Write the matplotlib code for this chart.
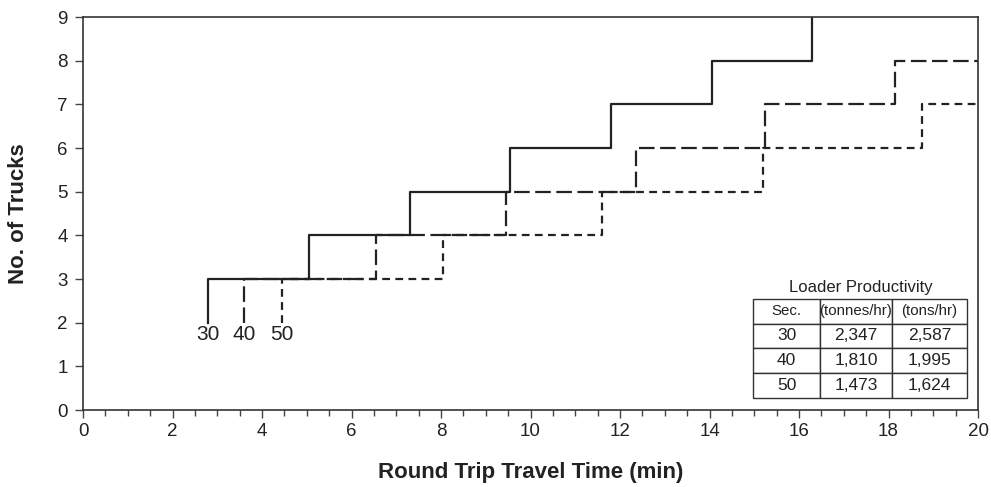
import matplotlib
matplotlib.use("Agg")
import matplotlib.pyplot as plt
from matplotlib.ticker import MultipleLocator

plt.rcParams['font.family'] = ['Liberation Sans', 'DejaVu Sans']

# Step change points (round trip travel time, min) where truck count increases
steps_30 = [2.8, 5.05, 7.3, 9.55, 11.8, 14.05, 16.3, 16.3]
trucks_30 = [2, 3, 4, 5, 6, 7, 8, 9]
steps_40 = [3.6, 6.55, 9.45, 12.35, 15.25, 18.15, 20.0]
trucks_40 = [2, 3, 4, 5, 6, 7, 8]
steps_50 = [4.45, 8.05, 11.6, 15.2, 18.75, 20.0]
trucks_50 = [2, 3, 4, 5, 6, 7]

series_labels = ["30", "40", "50"]
label_y = 1.72

table_title = "Loader Productivity"
table_header = ["Sec.", "(tonnes/hr)", "(tons/hr)"]
table_rows = [["30", "2,347", "2,587"],
              ["40", "1,810", "1,995"],
              ["50", "1,473", "1,624"]]

x_ticks = list(range(0, 21, 2))
y_ticks = list(range(0, 10))

fig = plt.figure(figsize=(9.91, 4.87), dpi=100)
ax = fig.add_axes([0.0838, 0.158, 0.9031, 0.807])

col = "#222222"
ax.step(steps_30, trucks_30, where='pre', color=col, lw=1.6, linestyle='-')
ax.step(steps_40, trucks_40, where='pre', color=col, lw=1.6, linestyle=(0, (7, 2.5)))
ax.step(steps_50, trucks_50, where='pre', color=col, lw=1.6, linestyle=(0, (3.5, 2.4)))

for lab, xs in zip(series_labels, [steps_30, steps_40, steps_50]):
    ax.text(xs[0], label_y, lab, ha='center', va='center', fontsize=15, color=col)

ax.set_xlim(0, 20)
ax.set_ylim(0, 9)
ax.set_xticks(x_ticks)
ax.set_yticks(y_ticks)
ax.xaxis.set_minor_locator(MultipleLocator(0.5))
ax.tick_params(axis='both', which='major', labelsize=13.5, direction='out', length=6, width=1, color='#444444', labelcolor=col)
ax.tick_params(axis='y', which='major', pad=5)
ax.tick_params(axis='x', which='minor', direction='out', length=4, width=1, color='#444444')
for s in ax.spines.values():
    s.set_color('#333333')
    s.set_linewidth(1.2)

ax.set_xlabel("Round Trip Travel Time (min)", fontsize=16, fontweight='bold', color=col, labelpad=16)
ax.set_ylabel("No. of Trucks", fontsize=16, fontweight='bold', color=col, labelpad=20)

tbl = ax.table(cellText=table_rows, colLabels=table_header, cellLoc='center',
               colWidths=[67, 72, 75], bbox=[0.7486, 0.031, 0.239, 0.252])
tbl.auto_set_font_size(False)
for (r, c), cell in tbl.get_celld().items():
    cell.set_edgecolor('#333333')
    cell.set_linewidth(1.0)
    cell.get_text().set_color(col)
    cell.get_text().set_fontsize(12.5 if r > 0 else 10.8)
ax.text(0.8685, 0.312, table_title, transform=ax.transAxes, ha='center', va='center', fontsize=12, color=col)

fig.savefig("out.png", dpi=100)
